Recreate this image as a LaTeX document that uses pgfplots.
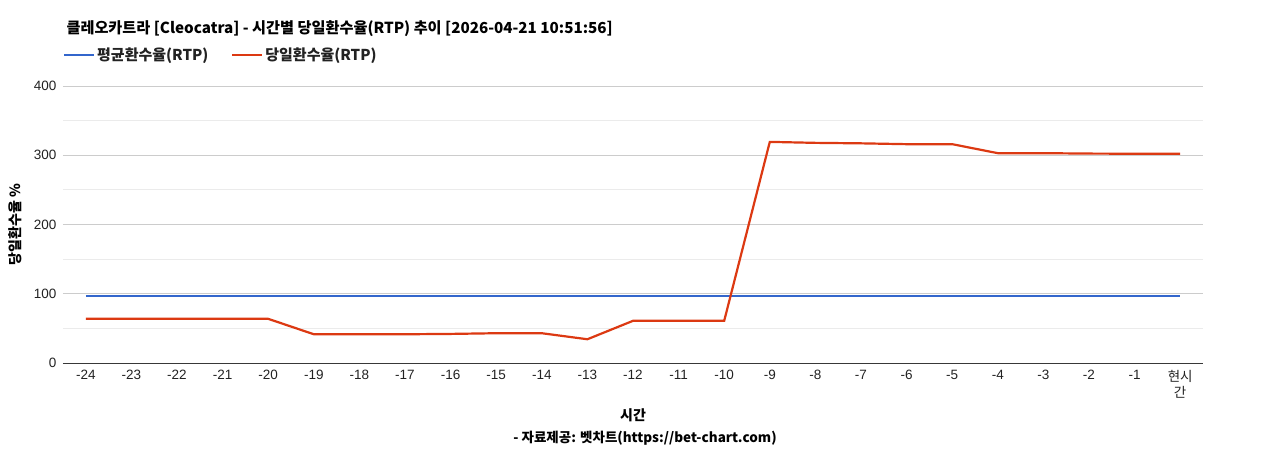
\documentclass[border=0pt]{standalone}
\usepackage{fontspec}
\setmainfont{Noto Sans CJK KR}
\newfontfamily\arial{Liberation Sans}
\usepackage{pgfplots}
\usepackage{pgfplotstable}
\pgfplotsset{compat=1.18}
\definecolor{avgblue}{HTML}{3366CC}
\definecolor{dayred}{HTML}{DC3912}
\definecolor{gridmaj}{HTML}{CCCCCC}
\definecolor{gridmin}{HTML}{EBEBEB}
\definecolor{txt}{HTML}{222222}

% hourly RTP, index 0 = -24h ... 24 = now
\pgfplotstableread{
idx daily avg
0  63.8 96.6
1  63.8 96.6
2  63.8 96.6
3  63.8 96.6
4  63.8 96.6
5  41.5 96.6
6  41.5 96.6
7  41.5 96.6
8  42.0 96.6
9  43.0 96.6
10 43.0 96.6
11 34.3 96.6
12 60.9 96.6
13 60.9 96.6
14 60.9 96.6
15 319.3 96.6
16 317.9 96.6
17 317.2 96.6
18 316.0 96.6
19 316.0 96.6
20 303.0 96.6
21 303.0 96.6
22 302.4 96.6
23 302.2 96.6
24 302.2 96.6
}\rtp

\begin{document}
\begin{tikzpicture}[x=1pt,y=1pt]
\useasboundingbox (0,0) rectangle (1268,450);
\begin{axis}[
  at={(63pt,87pt)}, anchor=south west,
  scale only axis, width=1140pt, height=277pt,
  xmin=-0.5, xmax=24.5, ymin=0, ymax=400,
  xtick={0,...,24},
  xticklabels={-24,-23,-22,-21,-20,-19,-18,-17,-16,-15,-14,-13,-12,-11,-10,-9,-8,-7,-6,-5,-4,-3,-2,-1,{{\normalfont 현시}\\{\normalfont 간}}},
  ytick={0,100,...,400},
  minor ytick={50,150,250,350},
  ymajorgrids, yminorgrids,
  major grid style={gridmaj, line width=0.8pt},
  minor grid style={gridmin, line width=0.8pt},
  major tick length=0pt, minor tick length=0pt,
  axis x line*=bottom, axis y line*=left,
  x axis line style={draw=txt!90, line width=0.9pt, -},
  y axis line style={draw=none},
  ticklabel style={font=\fontsize{13.5}{16}\selectfont\arial, text=txt},
  xticklabel style={align=center, yshift=-4pt},
  yticklabel style={xshift=-3pt},
  /pgf/number format/assume math mode=true,
  ylabel={당일환수율 \%},
  every axis y label/.style={at={(rel axis cs:0,0.5)}, rotate=90, anchor=center,
    yshift=48pt, font=\fontsize{14}{16}\selectfont\bfseries, text=black},
  legend columns=2,
  legend style={at={(0,1)}, anchor=west, yshift=31pt, xshift=-3pt, draw=none, fill=none,
    font=\fontsize{15}{17}\selectfont\bfseries, text=txt,
    /tikz/every even column/.append style={column sep=21pt}},
  legend image code/.code={\draw[#1, line width=2pt] (0pt,0pt) -- (30pt,0pt);},
]
\addplot[avgblue, line width=2.2pt] table[x=idx, y=avg] {\rtp};
\addlegendentry{평균환수율(RTP)}
\addplot[dayred, line width=2.2pt] table[x=idx, y=daily] {\rtp};
\addlegendentry{당일환수율(RTP)}
\end{axis}
\node[anchor=base west, font=\fontsize{15.2}{17}\selectfont\bfseries] at (63,416) {클레오카트라 [Cleocatra] - 시간별 당일환수율(RTP) 추이 [2026-04-21 10:51:56]};
\node[anchor=base, font=\fontsize{14}{16}\selectfont\bfseries] at (633,30) {시간};
\node[anchor=base, font=\fontsize{13.5}{15}\selectfont\bfseries] at (645,8) {- 자료제공: 벳차트(https://bet-chart.com)};
\end{tikzpicture}
\end{document}
